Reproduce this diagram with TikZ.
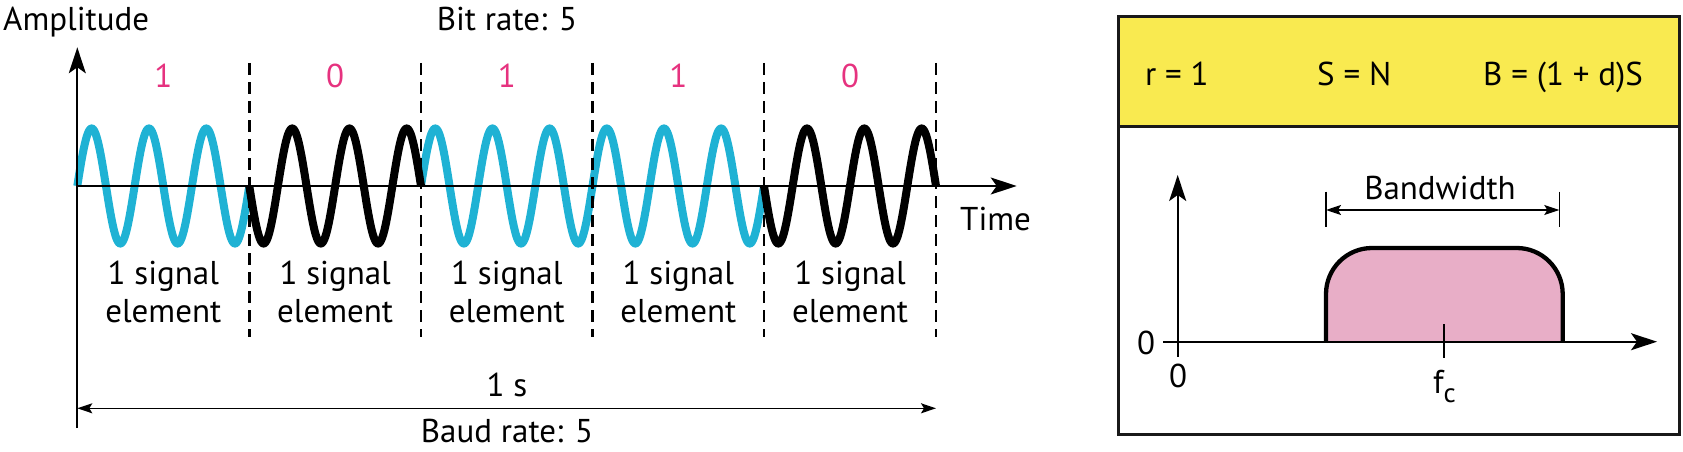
\documentclass[tikz,border=0pt]{standalone}
\usepackage{fontspec}
\setmainfont{PT Sans}
\usetikzlibrary{arrows.meta}
\definecolor{wavecyan}{RGB}{31,178,212}
\definecolor{bitpink}{RGB}{230,50,127}
\definecolor{hdryellow}{RGB}{249,234,80}
\definecolor{bandpink}{RGB}{232,174,199}
\begin{document}
\begin{tikzpicture}[x=1pt,y=-1pt,
  font=\fontsize{33}{38.7}\selectfont,
  lbl/.style={inner sep=0pt, anchor=base},
  axisarrow/.style={line width=2pt, -{Stealth[length=26pt,width=17pt,inset=6pt]}},
  dimarrow/.style={line width=1.5pt, {Stealth[length=15pt,width=10pt,inset=3pt]}-{Stealth[length=15pt,width=10pt,inset=3pt]}},
  sepline/.style={line width=2.5pt, dash pattern=on 12pt off 7pt},
  wavestroke/.style={line width=8pt},
  bitlbl/.style={lbl, text=bitpink},
  boxline/.style={line width=3pt, draw=black!90},
  bandshape/.style={line width=4.3pt, fill=bandpink, rounded corners=46pt},
  tickline/.style={line width=2pt}]
\useasboundingbox (0,0) rectangle (1683,452);

% ---------- left panel ----------
\node[lbl, anchor=base west] (amp) at (3,31) {Amplitude};
\node[lbl] (bitrate) at (507,31) {Bit rate: 5};

\coordinate (ybot) at (77.3,428);
\coordinate (ytop) at (77.3,47.3);
\coordinate (xorg) at (77.3,186);
\coordinate (xend) at (1016.7,186);

% waves
\foreach \a/\b/\s/\c in {77.3/249.3/1/wavecyan, 421/592.5/1/wavecyan, 592.5/764/1/wavecyan}
  \draw[wavestroke, \c] plot[domain=0:1080, samples=217] ({\a+\x/1080*(\b-\a)},{186-\s*57.5*sin(\x)});
\foreach \a/\b/\s/\c in {249.3/421/-1/black, 764/936/-1/black}
  \draw[wavestroke, \c] plot[domain=0:1080, samples=217] ({\a+\x/1080*(\b-\a)},{186-\s*57.5*sin(\x)});

\draw[axisarrow] (ybot) -- (ytop);
\draw[axisarrow] (xorg) -- (xend);

% separators
\foreach \n/\x in {1/249.3, 2/421, 3/592.5, 4/764, 5/936}{
  \coordinate (st\n) at (\x,63);
  \coordinate (sb\n) at (\x,337);
  \draw[sepline] (st\n) -- (sb\n);
}

% bit labels and element labels
\foreach \n/\x/\bit in {1/163.3/1, 2/335.2/0, 3/506.8/1, 4/678.3/1, 5/850/0}{
  \node[bitlbl] (bit\n) at (\x,87) {\bit};
  \node[lbl] (sig\n) at (\x,284) {1 signal};
  \node[lbl] (ele\n) at (\x,322.7) {element};
}

\node[lbl, anchor=base west] (time) at (960,230.7) {Time};
\node[lbl] (ones) at (507,396) {1 s};
\coordinate (dl) at (77.3,408.3);
\coordinate (dr) at (936,408.3);
\draw[dimarrow] (dl) -- (dr);
\node[lbl] (baud) at (507,442) {Baud rate: 5};

% ---------- right panel ----------
\fill[hdryellow] (1118.3,16.7) rectangle (1679.7,126.7);
\draw[boxline] (1118.3,16.7) rectangle (1679.7,434);
\draw[boxline] (1118.3,126.7) -- (1679.7,126.7);

\node[lbl, anchor=base west] (rr) at (1145,85) {r = 1};
\node[lbl, anchor=base west] (sn) at (1317,85) {S = N};
\node[lbl, anchor=base west] (bb) at (1483,85) {B = (1 + d)S};

% band shape
\draw[bandshape] (1326,341.7) -- (1326,248) -- (1562.7,248) -- (1562.7,341.7);

\coordinate (vb) at (1177.7,356.7);
\coordinate (vt) at (1177.7,175);
\coordinate (hb) at (1163,341.7);
\coordinate (he) at (1657,341.7);
\draw[axisarrow] (vb) -- (vt);
\draw[axisarrow] (hb) -- (he);

\node[inner sep=0pt] (zl) at (1146,343) {0};
\node[inner sep=0pt] (zb) at (1178,376) {0};

% bandwidth
\coordinate (bwl1) at (1326,191.7);
\coordinate (bwl2) at (1326,226.7);
\coordinate (bwr1) at (1559.3,191.7);
\coordinate (bwr2) at (1559.3,226.7);
\coordinate (bwl) at (1326,210);
\coordinate (bwr) at (1559.3,210);
\draw[tickline, line width=1.5pt] (bwl1) -- (bwl2);
\draw[tickline, line width=1.5pt] (bwr1) -- (bwr2);
\draw[dimarrow] (bwl) -- (bwr);
\node[lbl] (bwtxt) at (1440,199) {Bandwidth};

% fc
\coordinate (fct) at (1444.3,324);
\coordinate (fcb) at (1444.3,358);
\draw[tickline] (fct) -- (fcb);
\node[lbl, anchor=base west] (fc) at (1433,393) {f\raisebox{-9pt}{\fontsize{27}{27}\selectfont c}};
\end{tikzpicture}
\end{document}
